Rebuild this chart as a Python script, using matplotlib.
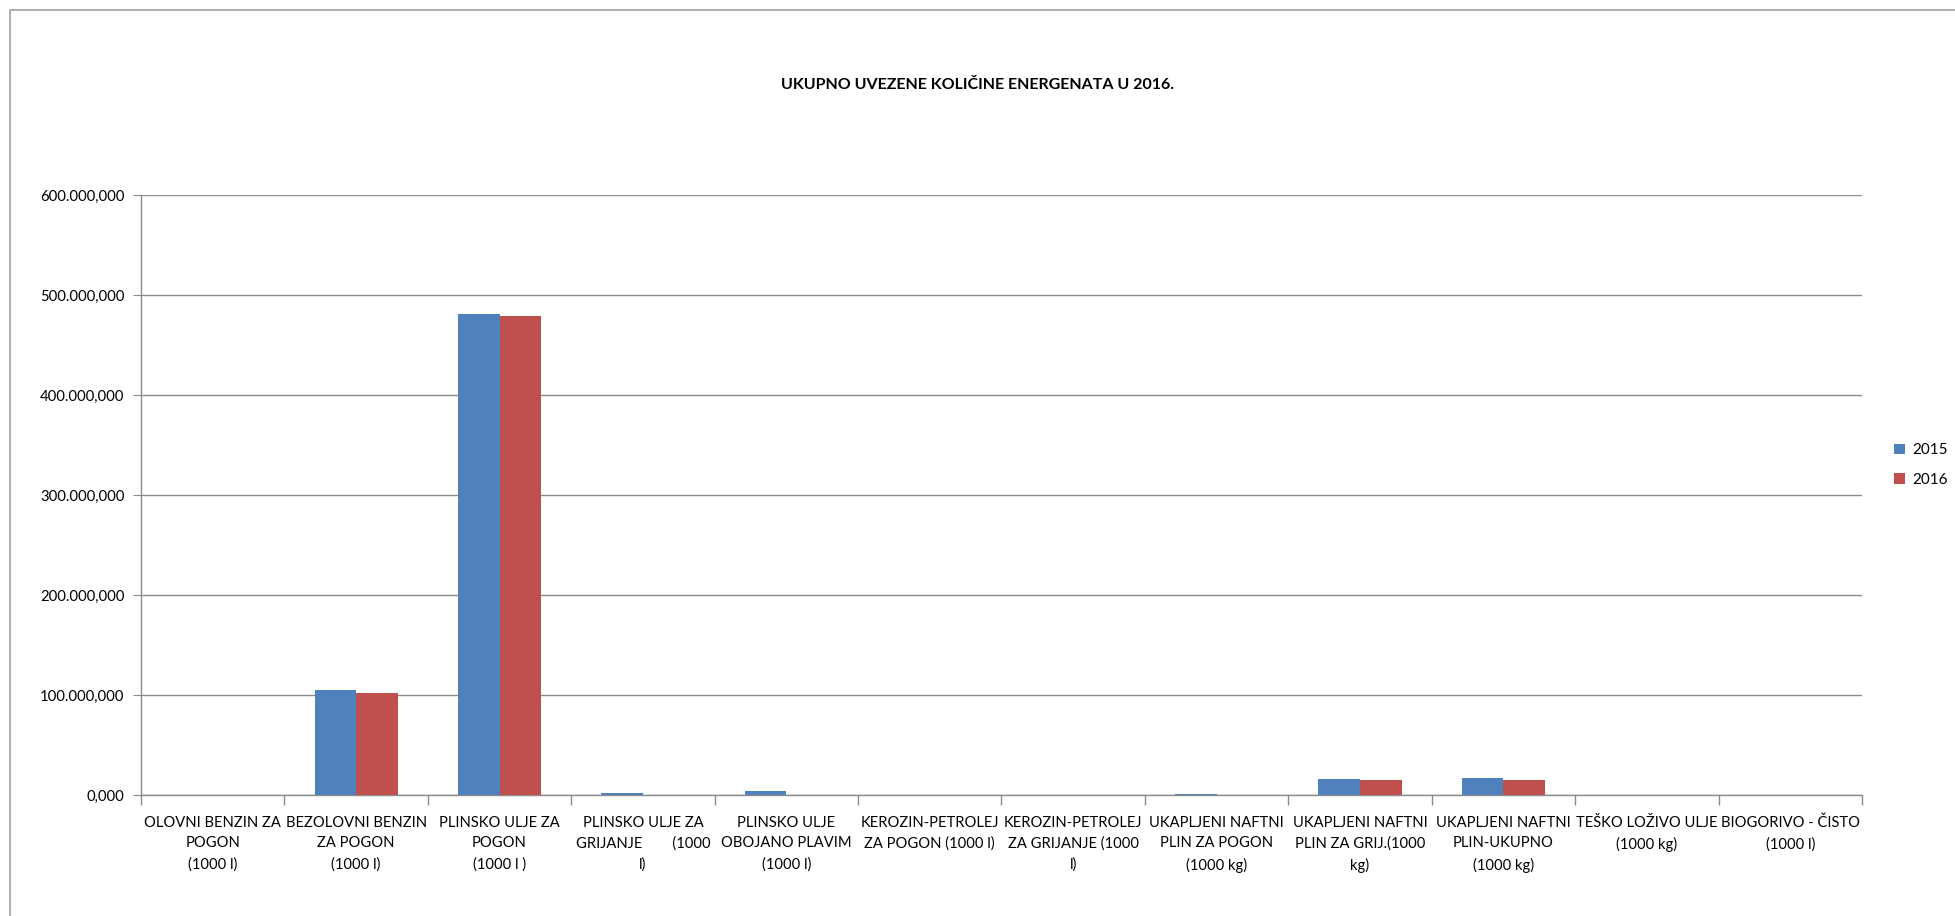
import matplotlib
matplotlib.use("Agg")
import matplotlib.pyplot as plt
from matplotlib.patches import Rectangle
from matplotlib.ticker import FuncFormatter, FixedLocator
import numpy as np

categories = [
    "OLOVNI BENZIN ZA\nPOGON\n(1000 l)",
    "BEZOLOVNI BENZIN\nZA POGON\n(1000 l)",
    "PLINSKO ULJE ZA\nPOGON\n(1000 l )",
    "PLINSKO ULJE ZA\nGRIJANJE        (1000\nl)",
    "PLINSKO ULJE\nOBOJANO PLAVIM\n(1000 l)",
    "KEROZIN-PETROLEJ\nZA POGON (1000 l)",
    "KEROZIN-PETROLEJ\nZA GRIJANJE (1000\nl)",
    "UKAPLJENI NAFTNI\nPLIN ZA POGON\n(1000 kg)",
    "UKAPLJENI NAFTNI\nPLIN ZA GRIJ.(1000\nkg)",
    "UKAPLJENI NAFTNI\nPLIN-UKUPNO\n(1000 kg)",
    "TEŠKO LOŽIVO ULJE\n(1000 kg)",
    "BIOGORIVO - ČISTO\n(1000 l)",
]
series_names = ["2015", "2016"]
values_2015 = [0, 105000, 481500, 2500, 4000, 0, 0, 1500, 16000, 17500, 0, 0]
values_2016 = [0, 102500, 479500, 200, 300, 0, 0, 200, 15000, 15000, 0, 0]
colors = ["#4F81BD", "#C0504D"]
yticks = [0, 100000, 200000, 300000, 400000, 500000, 600000]

plt.rcParams['font.family'] = ['Lato', 'DejaVu Sans']

W, H = 1956, 916
fig = plt.figure(figsize=(W / 100, H / 100), dpi=100)

# outer chart border
fig.patches.append(Rectangle((10 / W, -0.1), 1.2, 1 - 10 / H + 0.1, transform=fig.transFigure,
                             fill=False, edgecolor="#A0A0A0", linewidth=1.2))

left, right, top, bottom = 141, 1862, 195, 795
ax = fig.add_axes([left / W, 1 - bottom / H, (right - left) / W, (bottom - top) / H])

n = len(categories)
x = np.arange(n)
bw = 0.29
ax.bar(x - bw / 2, values_2015, bw, color=colors[0], label=series_names[0], zorder=3)
ax.bar(x + bw / 2, values_2016, bw, color=colors[1], label=series_names[1], zorder=3)

ax.set_xlim(-0.5, n - 0.5)
ax.set_ylim(0, 600000)
ax.set_yticks(yticks)

def fmt(v, pos):
    s = f"{v:,.3f}"
    return s.replace(",", "X").replace(".", ",").replace("X", ".")

ax.yaxis.set_major_formatter(FuncFormatter(fmt))
ax.grid(axis="y", color="#8C8C8C", linewidth=1.0, zorder=0)
ax.set_axisbelow(True)

ax.set_xticks(x)
ax.set_xticklabels(categories, fontsize=10.6, linespacing=1.6, va="top")
ax.tick_params(axis="x", length=0, pad=15)
ax.xaxis.set_minor_locator(FixedLocator(np.arange(-0.5, n, 1.0)))
ax.tick_params(axis="x", which="minor", length=7, color="#8C8C8C", width=1)
ax.tick_params(axis="y", length=6, color="#8C8C8C", labelsize=10.7, pad=6)

for sp in ["top", "right"]:
    ax.spines[sp].set_visible(False)
for sp in ["left", "bottom"]:
    ax.spines[sp].set_color("#8C8C8C")
    ax.spines[sp].set_linewidth(1.0)

fig.text(0.5, 1 - 85 / H, "UKUPNO UVEZENE KOLIČINE ENERGENATA U 2016.",
         ha="center", va="center", fontsize=11.5, fontweight="bold")

leg = fig.legend(loc="center left", bbox_to_anchor=(1894 / W, 1 - 465 / H), frameon=False,
                 fontsize=11, handlelength=0.7, handleheight=0.7, handletextpad=0.5,
                 labelspacing=1.0, borderaxespad=0, borderpad=0)

fig.savefig("out.png", dpi=100)
